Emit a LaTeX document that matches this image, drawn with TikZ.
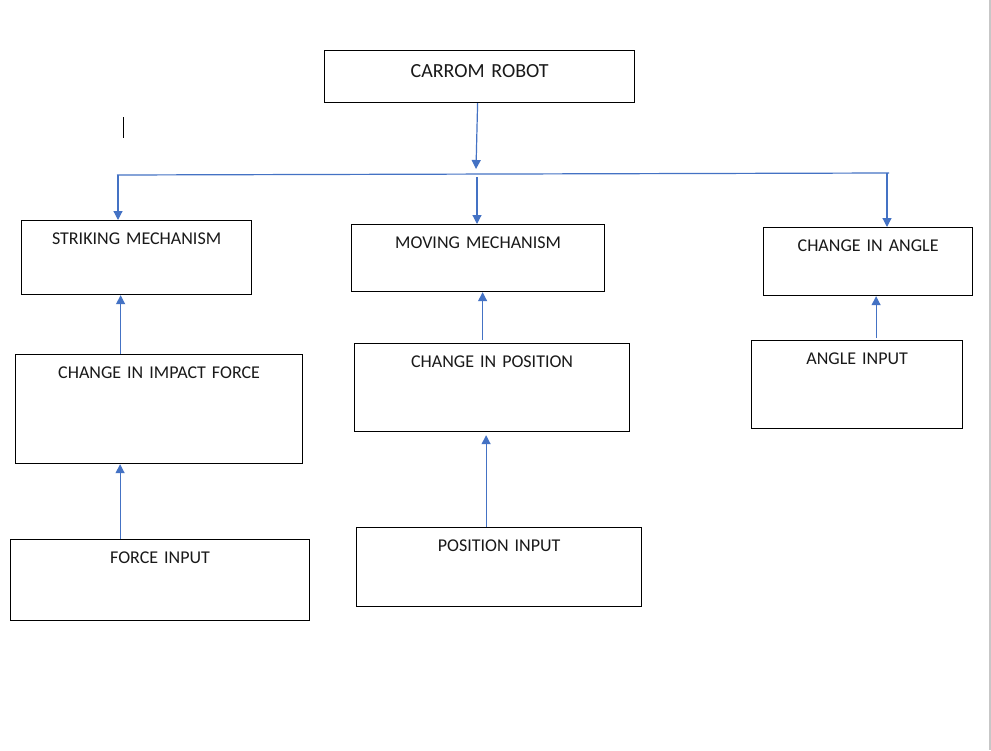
\documentclass[tikz,border=0pt]{standalone}
\usepackage{fontspec}
\setmainfont{Carlito}
\usetikzlibrary{arrows.meta}
\definecolor{wordblue}{HTML}{4472C4}
\tikzset{
  box/.style={draw=black, line width=1.2pt, anchor=north west, inner sep=0pt, align=center,
    font=\fontsize{18}{21}\selectfont, text=black!90},
  conn/.style={draw=wordblue, line width=1.2pt},
  arr/.style={conn, -{Triangle[width=9pt,length=9pt]}}
}
\begin{document}
\begin{tikzpicture}[x=1pt,y=-1pt]
\useasboundingbox (0,0) rectangle (991,750);
\fill[white] (0,0) rectangle (991,750);
% page edge and cursor
\draw[black!22, line width=1.5pt] (990,0) -- (990,750);
\draw[black, line width=1pt] (123,117) -- (123,138);

% boxes
\node[box, font=\fontsize{20}{24}\selectfont, text width=310pt, text height=27.3pt, text depth=24.7pt] (robot) at (324,50) {CARROM ROBOT};
\node[box, text width=230pt, text height=24.3pt, text depth=49.7pt] (strike) at (21,220) {STRIKING MECHANISM};
\node[box, text width=253pt, text height=24.3pt, text depth=42.7pt] (moving) at (351,224) {MOVING MECHANISM};
\node[box, text width=209pt, text height=24.3pt, text depth=43.7pt] (angle) at (763,227) {CHANGE IN ANGLE};
\node[box, text width=287pt, text height=24.3pt, text depth=84.7pt] (impact) at (15,354) {CHANGE IN IMPACT FORCE};
\node[box, text width=275pt, text height=24.3pt, text depth=63.7pt] (position) at (354,343) {CHANGE IN POSITION};
\node[box, text width=211pt, text height=24.3pt, text depth=63.7pt] (ainput) at (751,340) {ANGLE INPUT};
\node[box, text width=299pt, text height=24.3pt, text depth=56.7pt] (finput) at (10,539) {FORCE INPUT};
\node[box, text width=285pt, text height=24.3pt, text depth=54.7pt] (pinput) at (356,527) {POSITION INPUT};

% bus
\coordinate (busL) at (118,175);
\coordinate (busA) at (476,174);
\coordinate (busM) at (477,174);
\coordinate (busR) at (887,173);
\draw[conn] ([xshift=-1pt]busL) -- ([xshift=2pt]busR);
\draw[arr] ([xshift=-2pt]robot.south) -- ([yshift=5pt]busA);
\draw[arr] (busL) -- (busL |- strike.north);
\draw[arr] ([yshift=-3pt]busM) -- (busM |- moving.north);
\draw[arr] (busR) -- (busR |- angle.north);

% upward arrows
\draw[arr] ([xshift=-38.5pt]impact.north) -- ([xshift=-38.5pt]impact.north |- strike.south);
\draw[arr] ([xshift=-40pt]finput.north) -- ([xshift=-40pt]finput.north |- impact.south);
\draw[arr] ([xshift=-9.5pt,yshift=3pt]position.north) -- ([xshift=-9.5pt]position.north |- moving.south);
\draw[arr, shorten >=3pt] ([xshift=-13pt]pinput.north) -- ([xshift=-13pt]pinput.north |- position.south);
\draw[arr] ([xshift=19pt,yshift=2pt]ainput.north) -- ([xshift=19pt]ainput.north |- angle.south);
\end{tikzpicture}
\end{document}
